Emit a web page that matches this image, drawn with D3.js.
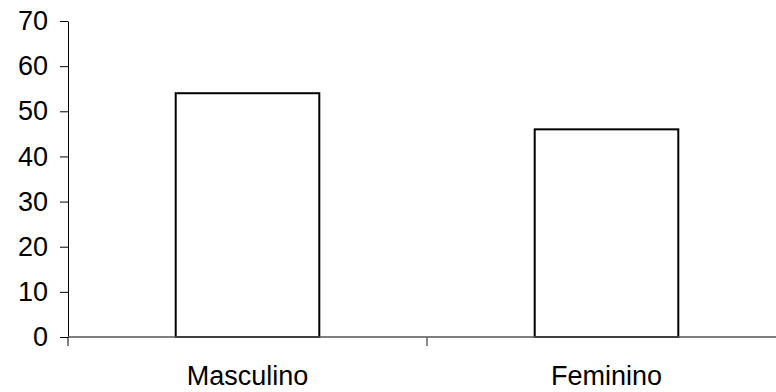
<!DOCTYPE html>
<html>
<head>
<meta charset="utf-8">
<script src="https://cdn.jsdelivr.net/npm/d3@7"></script>
<style>
  body { margin: 0; background: #fff; }
  svg { display: block; font-family: Arial, "Liberation Sans", sans-serif; }
</style>
</head>
<body>
<div id="chart"></div>
<script>
// data
var categories = ["Masculino", "Feminino"];
var values = [54, 46];
var yTicks = [0, 10, 20, 30, 40, 50, 60, 70];

var width = 776, height = 392;
var margin = {top: 21, left: 68, bottom: 55};

var svg = d3.select("#chart").append("svg")
  .attr("width", width)
  .attr("height", height);

// two equal cells, the axis runs out past the right edge
var x = d3.scaleBand()
  .domain(categories)
  .range([margin.left, margin.left + 2 * 359])
  .paddingInner(0.6)
  .paddingOuter(0.3);

var y = d3.scaleLinear()
  .domain([0, 70])
  .range([height - margin.bottom, margin.top]);

// y axis
var yAxis = svg.append("g")
  .attr("transform", "translate(" + margin.left + ",0)")
  .call(d3.axisLeft(y).tickValues(yTicks).tickSize(8).tickPadding(12).tickSizeOuter(0));
yAxis.select(".domain").attr("stroke", "#000");
yAxis.selectAll(".tick line").attr("stroke", "#000");
yAxis.selectAll("text")
  .attr("font-size", "27px")
  .attr("fill", "#000")
  .attr("font-family", "Arial, 'Liberation Sans', sans-serif");

// bars
svg.selectAll(".bar")
  .data(values)
  .enter().append("rect")
  .attr("class", "bar")
  .attr("x", function(d, i) { return x(categories[i]); })
  .attr("y", function(d) { return y(d); })
  .attr("width", x.bandwidth())
  .attr("height", function(d) { return y(0) - y(d); })
  .attr("fill", "#fff")
  .attr("stroke", "#000")
  .attr("stroke-width", 2);

// x axis line with ticks at cell boundaries
var step = x.step();
var xAxis = svg.append("g");
xAxis.append("line")
  .attr("x1", margin.left).attr("x2", width)
  .attr("y1", y(0)).attr("y2", y(0))
  .attr("stroke", "#555")
  .attr("stroke-width", 1.5);
xAxis.selectAll(".xt")
  .data(d3.range(categories.length + 1))
  .enter().append("line")
  .attr("class", "xt")
  .attr("x1", function(i) { return margin.left + i * step; })
  .attr("x2", function(i) { return margin.left + i * step; })
  .attr("y1", y(0))
  .attr("y2", y(0) + 9)
  .attr("stroke", function(i) { return i === 0 ? "#000" : "#666"; })
  .attr("stroke-width", function(i) { return i === 0 ? 1 : 1.5; });

xAxis.selectAll(".xl")
  .data(categories)
  .enter().append("text")
  .attr("class", "xl")
  .attr("x", function(d) { return x(d) + x.bandwidth() / 2; })
  .attr("y", 385)
  .attr("text-anchor", "middle")
  .attr("font-size", "27px")
  .attr("fill", "#000")
  .text(function(d) { return d; });
</script>
</body>
</html>
